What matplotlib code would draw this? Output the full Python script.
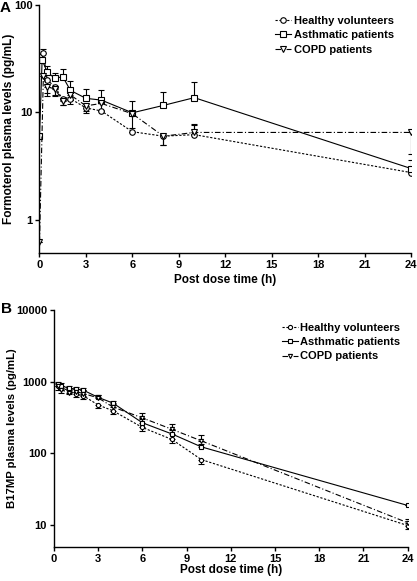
import numpy as np
import matplotlib
matplotlib.use("Agg")
import matplotlib.pyplot as plt
from matplotlib.lines import Line2D

plt.rcParams["font.family"] = ["Liberation Sans", "DejaVu Sans"]
plt.rcParams["font.weight"] = "bold"

# ---------------------------- Data -----------------------------------
# Panel A: formoterol (pg/mL)
a_t_healthy = [0.25, 0.5, 1, 1.5, 2, 3, 4, 6, 8, 10, 24]
a_healthy = [36, 20, 17.3, 13.2, 13.4, 11, 10.3, 6.6, 6.0, 6.2, 2.75]
a_healthy_lo = [0, 5, 3, 1.5, 1.5, 1.2, 0, 0, 1.0, 0, 0]
a_healthy_hi = [3, 0, 0, 0, 0, 0, 0, 0, 0, 1.4, 0]

a_t_asthma = [0, 0.17, 0.5, 1, 1.5, 2, 3, 4, 6, 8, 10, 24]
a_asthma = [6.0, 30.7, 23.7, 20.7, 21.5, 16, 13.5, 13, 9.9, 11.6, 13.7, 3.0]
a_asthma_lo = [0] * 12
a_asthma_hi = [0, 4, 3.5, 2.5, 3.7, 3.5, 3.1, 3.1, 2.9, 3.8, 5.4, 0.6]

a_t_copd = [0, 0.25, 0.5, 1, 1.5, 2, 3, 4, 6, 8, 10, 24]
a_copd = [0.62, 21.8, 17.3, 16.5, 12.8, 14.5, 11.5, 12.1, 9.7, 6.0, 6.5, 6.5]
a_copd_lo = [0, 0, 3, 2, 1.2, 1.5, 1.2, 1.5, 2.5, 1.0, 0, 2.4]
a_copd_hi = [0, 0, 0, 0, 0, 0, 0, 0, 0, 0, 1.3, 0]

# Panel B: B17MP (pg/mL)
b_t = [0.25, 0.5, 1, 1.5, 2, 3, 4, 6, 8, 10, 24]
b_healthy = [880, 800, 760, 660, 630, 470, 390, 228, 155, 81, 9.7]
b_healthy_lo = [110, 100, 80, 60, 60, 50, 40, 25, 18, 10, 1]
b_asthma = [920, 880, 800, 790, 755, 600, 500, 265, 185, 122, 18.5]
b_asthma_hi = [80, 70, 60, 60, 70, 50, 40, 30, 25, 12, 0]
b_copd = [860, 760, 700, 720, 680, 590, 440, 310, 215, 148, 10.6]
b_copd_hi = [100, 110, 80, 70, 80, 50, 50, 50, 40, 30, 1.5]

labels = ["Healthy volunteers", "Asthmatic patients", "COPD patients"]
x_ticks = [0, 3, 6, 9, 12, 15, 18, 21, 24]

# ---------------------------- Styles ---------------------------------
STY = {
    "healthy": dict(ls=(0, (2, 1.5)), marker="o"),
    "asthma": dict(ls="-", marker="s"),
    "copd": dict(ls=(0, (5, 2, 1, 2)), marker="v"),
}


def draw(ax, t, y, lo, hi, key, ms):
    st = STY[key]
    ax.errorbar(t, y, yerr=[lo, hi], color="black", lw=0.8, elinewidth=0.8,
                capsize=2.5, capthick=0.8, ls=st["ls"], marker=st["marker"],
                ms=ms, mfc="white", mec="black", mew=0.8)


def style_axes(ax, ylab, ylab_size, ylab_x, xlab_y):
    for s in ["top", "right"]:
        ax.spines[s].set_visible(False)
    ax.spines["left"].set_linewidth(1.0)
    ax.spines["bottom"].set_linewidth(1.0)
    ax.set_yscale("log")
    ax.minorticks_off()
    ax.set_xlim(0, 24)
    ax.set_xticks(x_ticks)
    ax.tick_params(direction="out", length=3, width=1, labelsize=8, pad=2)
    ax.set_xlabel("Post dose time (h)", fontsize=8.5, fontweight="bold")
    ax.set_ylabel(ylab, fontsize=ylab_size, fontweight="bold")
    ax.yaxis.set_label_coords(ylab_x, 0.5)
    ax.xaxis.set_label_coords(0.5, xlab_y)


def legend(ax, ms, anchor):
    handles = [Line2D([], [], color="black", lw=0.8, ms=ms, mfc="white",
                      mec="black", mew=0.8, **STY[k])
               for k in ["healthy", "asthma", "copd"]]
    ax.legend(handles, labels, loc="upper left", bbox_to_anchor=anchor,
              frameon=False, fontsize=8, handlelength=1.4, handletextpad=0.25,
              labelspacing=0.38, borderaxespad=0, borderpad=0)


fig = plt.figure(figsize=(4.17, 5.81), dpi=100)

# ----- panel A -----
axA = fig.add_axes([0.0947, 0.5645, 0.891, 0.427])
draw(axA, a_t_healthy, a_healthy, a_healthy_lo, a_healthy_hi, "healthy", 4)
draw(axA, a_t_asthma, a_asthma, a_asthma_lo, a_asthma_hi, "asthma", 4)
draw(axA, a_t_copd, a_copd, a_copd_lo, a_copd_hi, "copd", 4)
style_axes(axA, "Formoterol plasma levels (pg/mL)", 8.6, -0.065, -0.085)
axA.set_ylim(0.49, 100)
axA.set_yticks([1, 10, 100])
axA.set_yticklabels(["1", "10", "100"])
legend(axA, 4, (0.635, 0.955))

# ----- panel B -----
axB = fig.add_axes([0.1295, 0.059, 0.8482, 0.4074])
draw(axB, b_t, b_healthy, b_healthy_lo, [0] * len(b_t), "healthy", 3)
draw(axB, b_t, b_asthma, [0] * len(b_t), b_asthma_hi, "asthma", 3)
draw(axB, b_t, b_copd, [0] * len(b_t), b_copd_hi, "copd", 3)
style_axes(axB, "B17MP plasma levels (pg/mL)", 8.2, -0.105, -0.075)
axB.set_ylim(4.9, 10000)
axB.set_yticks([10, 100, 1000, 10000])
axB.set_yticklabels(["10", "100", "1000", "10000"])
legend(axB, 3, (0.645, 0.945))

fig.text(0.0, 0.987, "A", fontsize=11, fontweight="bold", va="center")
fig.text(0.003, 0.468, "B", fontsize=11, fontweight="bold", va="center")

fig.savefig("out.png", dpi=100)
